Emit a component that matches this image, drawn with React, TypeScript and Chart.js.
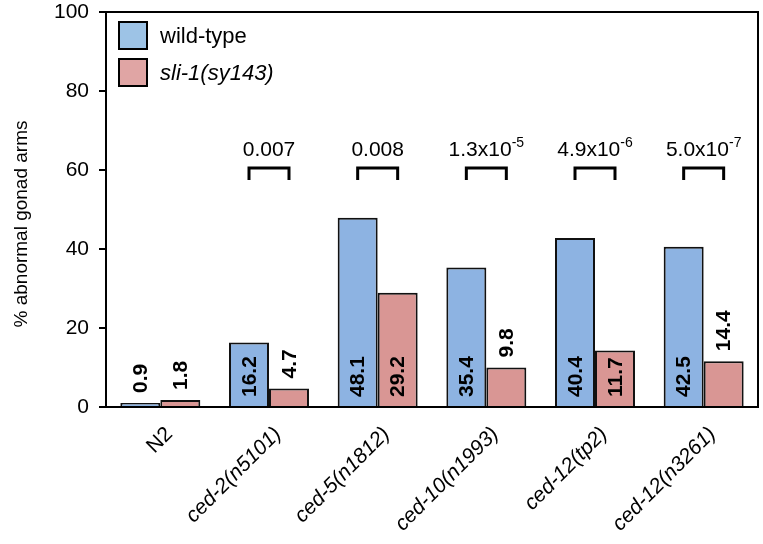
import React, { useEffect, useRef } from "react";
import { Chart, registerables } from "chart.js";

Chart.register(...registerables);

const categories = ["N2", "ced-2(n5101)", "ced-5(n1812)", "ced-10(n1993)", "ced-12(tp2)", "ced-12(n3261)"];
const wildType = [1.0, 16.3, 47.9, 35.3, 42.8, 40.6];
const sli1 = [1.8, 4.7, 28.9, 10.0, 14.3, 11.6];
const wildTypeLabels = ["0.9", "16.2", "48.1", "35.4", "40.4", "42.5"];
const sli1Labels = ["1.8", "4.7", "29.2", "9.8", "11.7", "14.4"];
const pBase = ["", "0.007", "0.008", "1.3x10", "4.9x10", "5.0x10"];
const pExp = ["", "", "", "-5", "-6", "-7"];
const seriesNames = ["wild-type", "sli-1(sy143)"];
const yTicks = [0, 20, 40, 60, 80, 100];
const yTitle = "% abnormal gonad arms";
const bracketLevel = 60;

const FONT = "'Liberation Sans', Arial, Helvetica, sans-serif";
const BLUE = "#8db3e2";
const RED = "#d99694";
const LEG_BLUE = "#9dc3e6";
const LEG_RED = "#e0a5a4";

const overlayPlugin = {
  id: "overlay",
  afterDatasetsDraw(chart: any) {
    const { ctx, chartArea, scales } = chart;
    const y = scales.y;
    const x = scales.x;
    const base = y.getPixelForValue(0);
    ctx.save();
    // frame
    ctx.strokeStyle = "#000";
    ctx.lineWidth = 2;
    ctx.strokeRect(chartArea.left, chartArea.top, chartArea.right - chartArea.left, chartArea.bottom - chartArea.top);

    // y title
    ctx.save();
    ctx.fillStyle = "#000";
    ctx.font = `19px ${FONT}`;
    ctx.textAlign = "center";
    ctx.textBaseline = "middle";
    ctx.translate(22, 224);
    ctx.rotate(-Math.PI / 2);
    ctx.fillText(yTitle, 0, 0);
    ctx.restore();

    // x labels
    categories.forEach((c, i) => {
      const tx = x.getPixelForValue(i);
      ctx.save();
      ctx.fillStyle = "#000";
      ctx.font = `${c.startsWith("ced") ? "italic " : ""}21px ${FONT}`;
      ctx.textAlign = "right";
      ctx.textBaseline = "middle";
      ctx.translate(tx + 9, base + 24);
      ctx.rotate(-Math.PI / 4);
      ctx.fillText(c, 0, 0);
      ctx.restore();
    });

    // value labels
    ctx.font = `bold 21px ${FONT}`;
    ctx.fillStyle = "#000";
    ctx.textBaseline = "middle";
    ctx.textAlign = "left";
    const labelSets = [wildTypeLabels, sli1Labels];
    chart.data.datasets.forEach((ds: any, di: number) => {
      const meta = chart.getDatasetMeta(di);
      meta.data.forEach((bar: any, i: number) => {
        const txt = labelSets[di][i];
        const w = ctx.measureText(txt).width;
        const h = base - bar.y;
        let start;
        if (h >= w + 14) start = base - 10;
        else start = bar.y - 10;
        ctx.save();
        ctx.translate(bar.x + 1, start);
        ctx.rotate(-Math.PI / 2);
        ctx.fillText(txt, 0, 0);
        ctx.restore();
      });
    });

    // brackets & p-values
    const m0 = chart.getDatasetMeta(0);
    const m1 = chart.getDatasetMeta(1);
    const by = y.getPixelForValue(bracketLevel) - 2;
    categories.forEach((_, i) => {
      if (!pBase[i]) return;
      const x0 = m0.data[i].x;
      const x1 = m1.data[i].x;
      ctx.strokeStyle = "#000";
      ctx.lineWidth = 3;
      ctx.lineCap = "butt";
      ctx.lineJoin = "miter";
      ctx.beginPath();
      ctx.moveTo(x0, by + 12);
      ctx.lineTo(x0, by);
      ctx.lineTo(x1, by);
      ctx.lineTo(x1, by + 12);
      ctx.stroke();
      const cx = (x0 + x1) / 2;
      ctx.font = `21px ${FONT}`;
      const wb = ctx.measureText(pBase[i]).width;
      ctx.font = `14px ${FONT}`;
      const we = pExp[i] ? ctx.measureText(pExp[i]).width : 0;
      const sx = cx - (wb + we) / 2;
      ctx.textAlign = "left";
      ctx.textBaseline = "alphabetic";
      ctx.font = `21px ${FONT}`;
      ctx.fillText(pBase[i], sx, by - 12);
      if (pExp[i]) {
        ctx.font = `14px ${FONT}`;
        ctx.fillText(pExp[i], sx + wb, by - 21);
      }
    });

    // legend
    const legCols = [LEG_BLUE, LEG_RED];
    const lx = chartArea.left + 13;
    seriesNames.forEach((name, i) => {
      const ty = chartArea.top + 10 + i * 37;
      ctx.fillStyle = legCols[i];
      ctx.fillRect(lx, ty, 28, 27);
      ctx.strokeStyle = "#000";
      ctx.lineWidth = 2;
      ctx.strokeRect(lx, ty, 28, 27);
      ctx.fillStyle = "#000";
      ctx.font = `${i === 1 ? "italic " : ""}22px ${FONT}`;
      ctx.textAlign = "left";
      ctx.textBaseline = "middle";
      ctx.fillText(name, lx + 41, ty + 15);
    });
    ctx.restore();
  },
};

export default function App() {
  const ref = useRef<HTMLCanvasElement | null>(null);
  useEffect(() => {
    document.body.style.margin = "0";
    const chart = new Chart(ref.current as HTMLCanvasElement, {
      type: "bar",
      data: {
        labels: categories,
        datasets: [
          { label: seriesNames[0], data: wildType, backgroundColor: BLUE, borderColor: "#111", borderWidth: 2, barPercentage: 1, categoryPercentage: 0.736 },
          { label: seriesNames[1], data: sli1, backgroundColor: RED, borderColor: "#111", borderWidth: 2, barPercentage: 1, categoryPercentage: 0.736 },
        ],
      },
      options: {
        animation: false,
        responsive: false,
        devicePixelRatio: 1,
        layout: { padding: { top: 12, right: 5, left: 0, bottom: 0 } },
        plugins: { legend: { display: false }, tooltip: { enabled: false } },
        scales: {
          y: {
            min: 0,
            max: 100,
            afterBuildTicks: (s: any) => {
              s.ticks = yTicks.map((v) => ({ value: v }));
            },
            afterFit: (s: any) => {
              s.width = 106;
              s.paddingTop = 0;
              s.paddingBottom = 0;
            },
            ticks: { font: { family: FONT, size: 21 }, color: "#000", padding: 10 },
            grid: { drawOnChartArea: false, drawTicks: true, tickLength: 7, color: "#000", lineWidth: 2 },
            border: { display: true, color: "#000", width: 2 },
          },
          x: {
            afterFit: (s: any) => {
              s.height = 137;
              s.paddingLeft = 0;
              s.paddingRight = 0;
            },
            grid: { display: false },
            border: { display: true, color: "#000", width: 2 },
            ticks: { display: false },
          },
        },
      },
      plugins: [overlayPlugin],
    } as any);
    return () => chart.destroy();
  }, []);
  return (
    <div style={{ position: "absolute", left: 0, top: 0, width: 763, height: 544 }}>
      <canvas ref={ref} width={763} height={544} style={{ width: 763, height: 544 }} />
    </div>
  );
}
